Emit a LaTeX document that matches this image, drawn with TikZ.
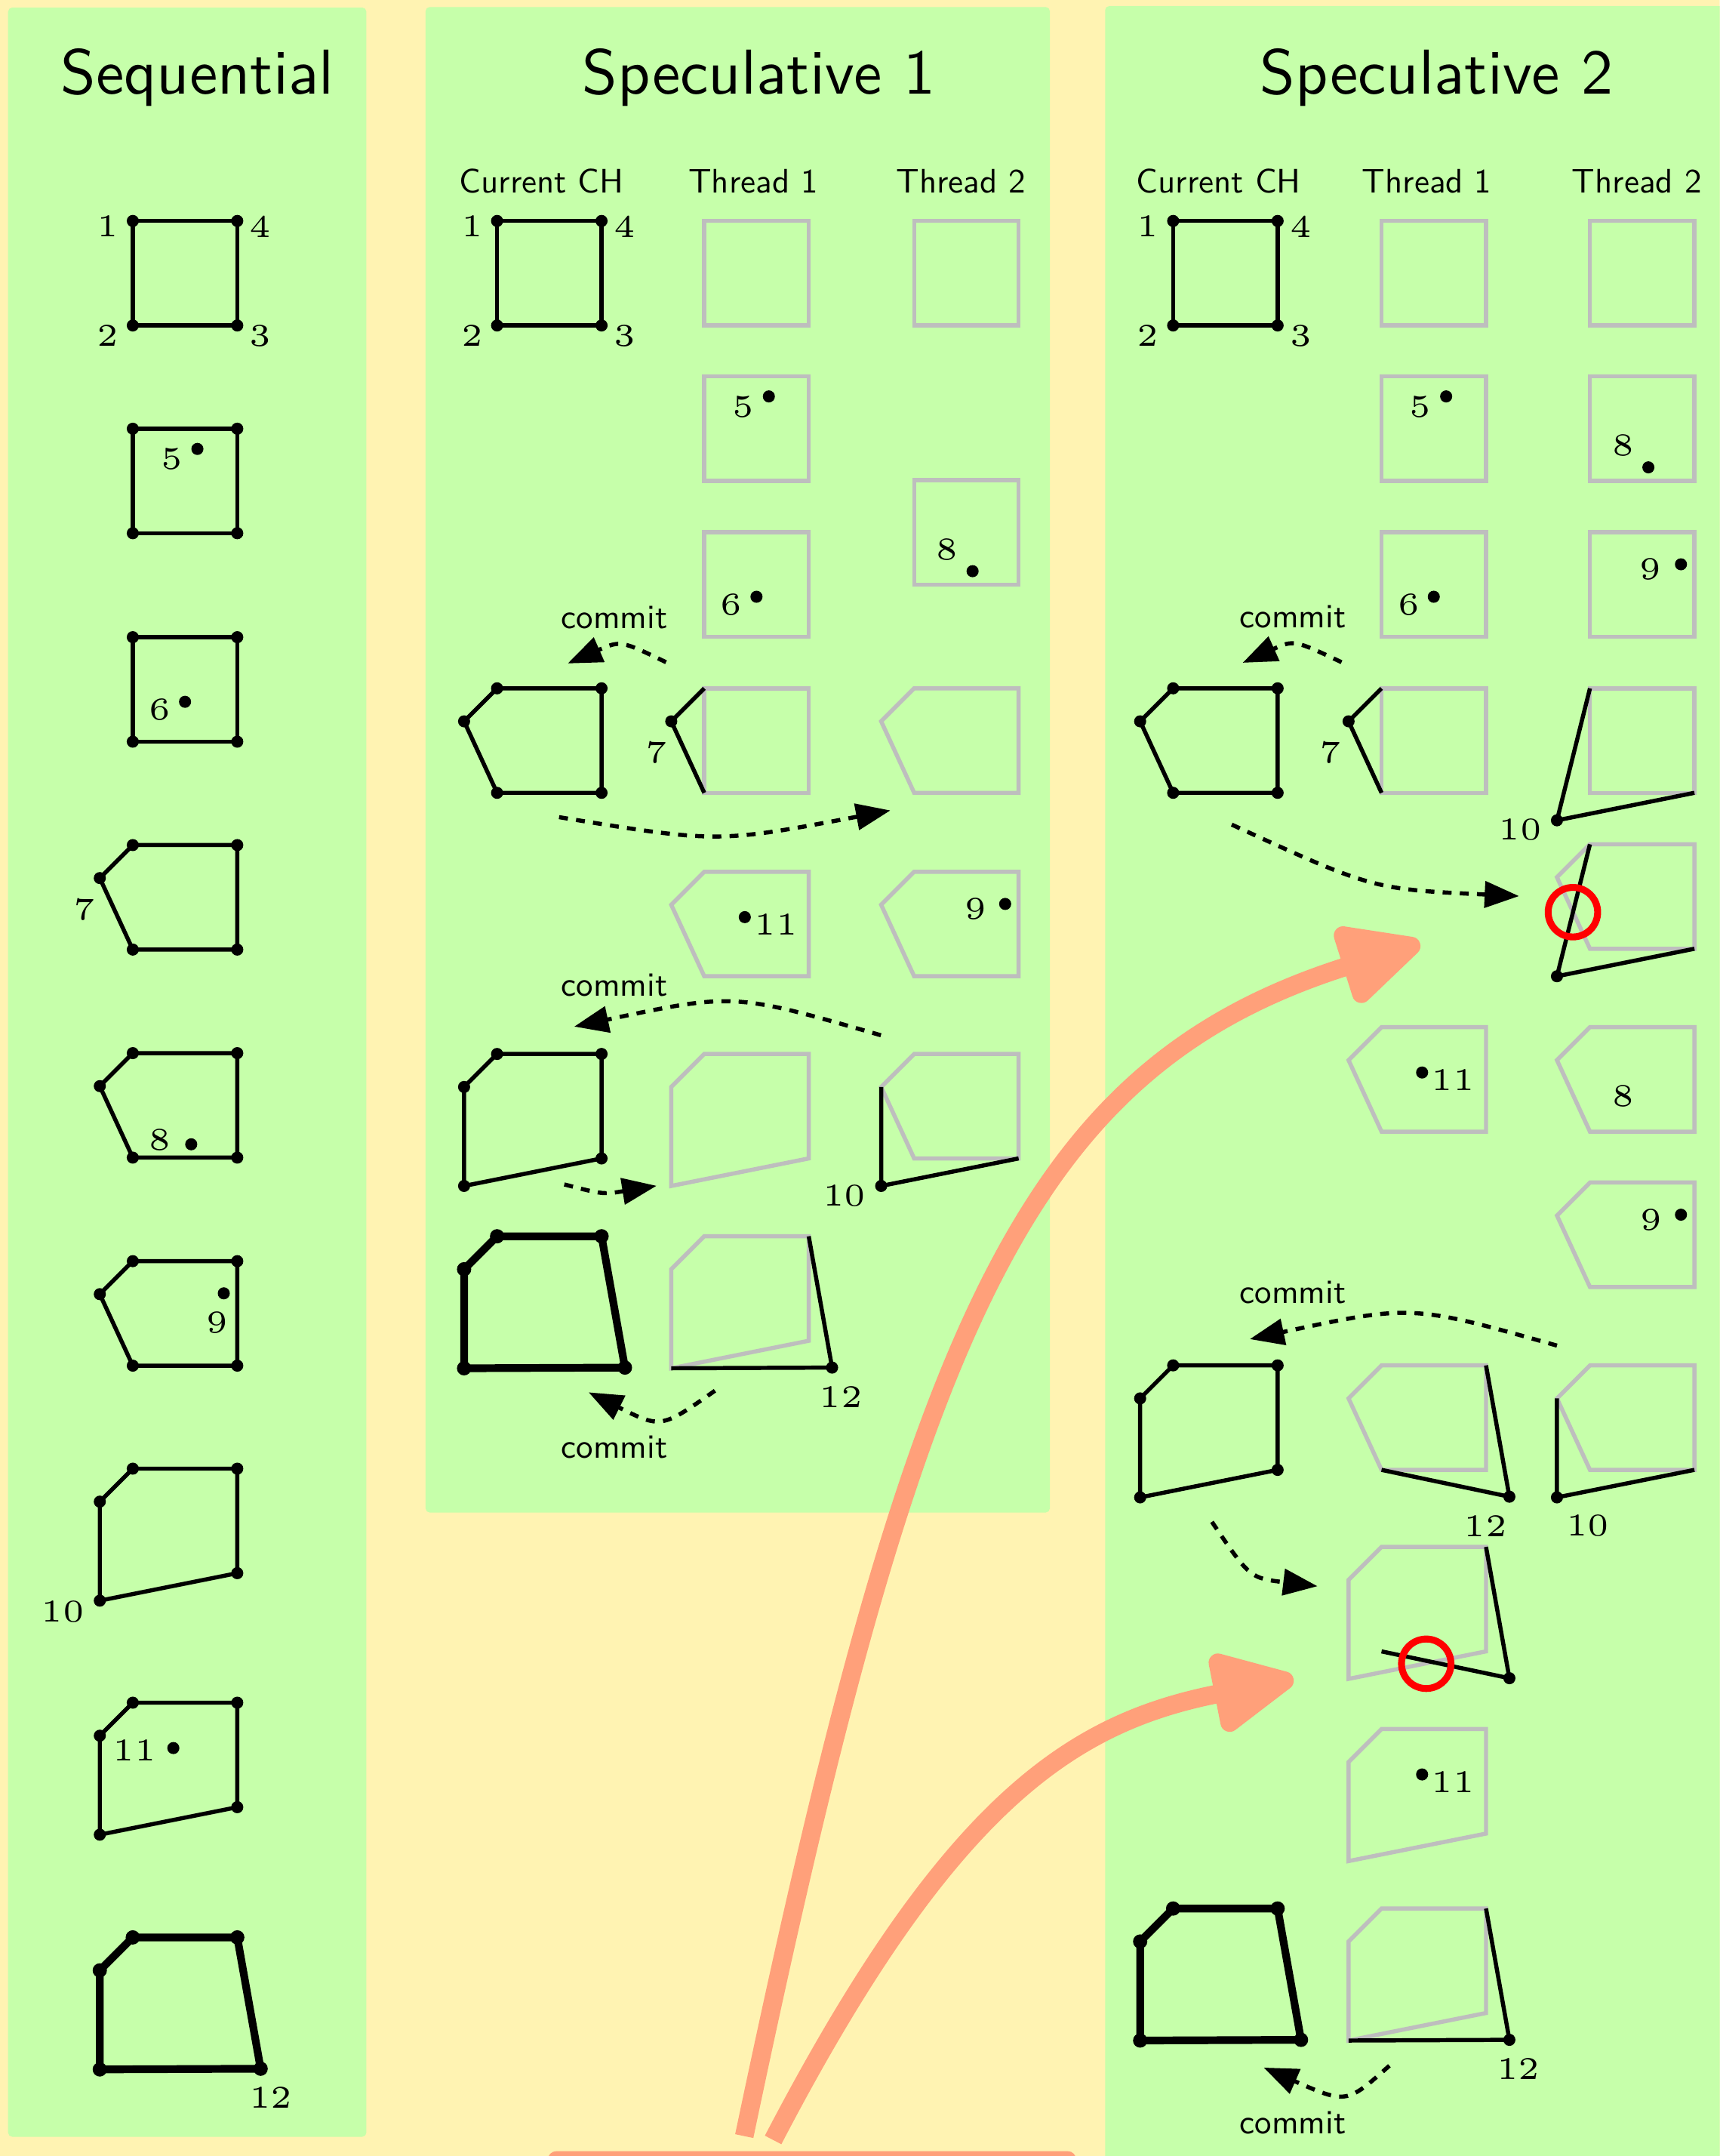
\documentclass[tikz,border=0pt]{standalone}
\usepackage{graphicx}
\usetikzlibrary{arrows.meta}
\definecolor{bgy}{RGB}{255,243,178}
\definecolor{pgreen}{RGB}{198,255,170}
\definecolor{salm}{RGB}{255,160,122}
\definecolor{lgr}{RGB}{190,190,190}
\newcommand\numt[1]{\scalebox{4.6}{\fontsize{5}{6}\selectfont #1}}
\newcommand\sft[1]{\scalebox{2.47}{\sffamily\fontsize{10}{12}\selectfont #1}}
\newcommand\ttl[1]{\scalebox{4.61}{\sffamily\fontsize{10}{12}\selectfont #1}}
\newcommand\At[3]{\begin{scope}[shift={(#1,#2)}]#3\end{scope}}
\newcommand\Dot[1]{\fill (#1) circle[radius=4.4pt];}
\newcommand\DotT[1]{\fill (#1) circle[radius=5.2pt];}
\newcommand\Lab[3]{\node[inner sep=0pt] (#1) at (#2) {\numt{#3}};}
\newcommand\gSq{\draw[gry] (0,0)--(76,0)--(76,76)--(0,76)--cycle;}
\newcommand\bSq{\draw[blk] (0,0)--(76,0)--(76,76)--(0,76)--cycle; \Dot{0,0}\Dot{76,0}\Dot{76,76}\Dot{0,76}}
\newcommand\gPent{\draw[gry] (-24,24)--(0,0)--(76,0)--(76,76)--(0,76)--cycle;}
\newcommand\bPent{\draw[blk] (-24,24)--(0,0)--(76,0)--(76,76)--(0,76)--cycle; \Dot{-24,24}\Dot{0,0}\Dot{76,0}\Dot{76,76}\Dot{0,76}}
\newcommand\gHull{\draw[gry] (-24,24)--(0,0)--(76,0)--(76,76)--(-24,96)--cycle;}
\newcommand\bHull{\draw[blk] (-24,24)--(0,0)--(76,0)--(76,76)--(-24,96)--cycle; \Dot{-24,24}\Dot{0,0}\Dot{76,0}\Dot{76,76}\Dot{-24,96}}
\newcommand\bFin{\draw[thk] (-24,24)--(0,0)--(76,0)--(93,95.5)--(-24,96)--cycle; \DotT{-24,24}\DotT{0,0}\DotT{76,0}\DotT{93,95.5}\DotT{-24,96}}
\newcommand\Corners[1]{\Lab{#1a}{-18.3,4}{1}\Lab{#1b}{92.8,4}{4}\Lab{#1c}{-18.3,83.4}{2}\Lab{#1d}{92.8,83.4}{3}}
\begin{document}
\begin{tikzpicture}[x=1pt,y=-1pt,
  blk/.style={line width=3pt,black,line join=round},
  gry/.style={line width=3pt,lgr},
  thk/.style={line width=5.6pt,black,line join=round},
  cmtarr/.style={line width=3pt,dash pattern=on 6.5pt off 6pt,-{Triangle[length=25pt,width=19pt]}},
  bigarr/.style={line width=13.5pt,salm,-{Triangle[length=68pt,width=62pt,round]}},
  redring/.style={red,line width=5pt},
  cmtlab/.style={anchor=base,inner sep=0pt}]
\useasboundingbox (0,0) rectangle (1251,1568);
\clip (0,0) rectangle (1251,1568);
\fill[bgy] (0,0) rectangle (1251,1568);
\fill[pgreen,rounded corners=3pt] (5.9,5.5) rectangle (266.5,1554);
\fill[pgreen,rounded corners=3pt] (309.6,5.1) rectangle (763.7,1100);
\fill[pgreen,rounded corners=3pt] (803.9,4.4) rectangle (1262,1580);
% titles
\node[anchor=base,inner sep=0pt] (tseq) at (143.6,68.6) {\ttl{Sequential}};
\node[anchor=base,inner sep=0pt] (tsp1) at (552,68.6) {\ttl{Speculative 1}};
\node[anchor=base,inner sep=0pt] (tsp2) at (1045,68.6) {\ttl{Speculative 2}};
\node[anchor=base,inner sep=0pt] (h1a) at (394,140) {\sft{Current CH}};
\node[anchor=base,inner sep=0pt] (h1b) at (548,140) {\sft{Thread 1}};
\node[anchor=base,inner sep=0pt] (h1c) at (699,140) {\sft{Thread 2}};
\node[anchor=base,inner sep=0pt] (h2a) at (886.5,140) {\sft{Current CH}};
\node[anchor=base,inner sep=0pt] (h2b) at (1038,140) {\sft{Thread 1}};
\node[anchor=base,inner sep=0pt] (h2c) at (1190.7,140) {\sft{Thread 2}};
% ---------- Sequential
\At{96.6}{160.7}{\bSq \Corners{sa}}
\At{96.6}{311.8}{\bSq \Dot{47,14.7} \Lab{s5}{28.3,22.1}{5}}
\At{96.6}{463.4}{\bSq \Dot{38,47} \Lab{s6}{19.7,52.6}{6}}
\At{96.6}{614.6}{\bPent \Lab{s7}{-35,46.6}{7}}
\At{96.6}{765.9}{\bPent \Dot{42.5,66.3} \Lab{s8}{19.9,63.1}{8}}
\At{96.6}{917.2}{\bPent \Dot{66.2,23.4} \Lab{s9}{61.3,44.6}{9}}
\At{96.6}{1068.1}{\bHull \Lab{s10}{-50.9,103.9}{10}}
\At{96.6}{1238.3}{\bHull \Dot{29.5,33} \Lab{s11}{1.3,34.7}{11}}
\At{96.6}{1409}{\bFin \Lab{s12}{100.4,116.7}{12}}
% ---------- Speculative 1
\At{361.6}{160.7}{\bSq \Corners{pa}}
\At{512.3}{160.7}{\gSq}
\At{665}{160.7}{\gSq}
\At{512.3}{273.6}{\gSq \Dot{47,14.7} \Lab{p5}{28.3,22.1}{5}}
\At{512.3}{387}{\gSq \Dot{38,47} \Lab{p6}{19.7,52.6}{6}}
\At{665}{349.1}{\gSq \Dot{42.5,66.3} \Lab{p8}{23.7,50.7}{8}}
\At{361.6}{500.6}{\bPent}
\At{512.3}{500.6}{\gSq \draw[blk] (0,0)--(-24,24)--(0,76); \Dot{-24,24} \Lab{p7}{-35,46.6}{7}}
\At{665}{500.6}{\gPent}
\At{512.3}{634}{\gPent \Dot{29.5,33} \Lab{p11}{52.1,38.4}{11}}
\At{665}{634}{\gPent \Dot{66.2,23.4} \Lab{p9}{44.6,27.1}{9}}
\At{361.6}{766.5}{\bHull}
\At{512.3}{766.5}{\gHull}
\At{665}{766.5}{\gPent \draw[blk] (-24,24)--(-24,96)--(76,76); \Dot{-24,96} \Lab{p10}{-50.7,103}{10}}
\At{361.6}{899.1}{\bFin}
\At{512.3}{899.1}{\gHull \draw[blk] (76,0)--(93,95.5)--(-24,96); \Dot{93,95.5} \Lab{p12}{99.5,116.8}{12}}
% commit arrows spec 1
\coordinate (a1s) at (484.5,481.6); \coordinate (a1e) at (413,482.5);
\draw[cmtarr] (a1s) .. controls (451.5,465.7) .. (a1e);
\node[cmtlab] (k1) at (447,457.1) {\sft{commit}};
\coordinate (a2s) at (406.7,594.3); \coordinate (a2e) at (647.7,589.4);
\draw[cmtarr] (a2s) .. controls (522,613.1) .. (a2e);
\coordinate (a3s) at (640.8,752.9); \coordinate (a3e) at (417.7,746.6);
\draw[cmtarr] (a3s) .. controls (533.8,722.1) .. (a3e);
\node[cmtlab] (k2) at (447,724.4) {\sft{commit}};
\coordinate (a4s) at (410.5,861.4); \coordinate (a4e) at (477.6,862.4);
\draw[cmtarr] (a4s) .. controls (438.7,868.7) .. (a4e);
\coordinate (a5s) at (520.1,1011.4); \coordinate (a5e) at (428.2,1012.6);
\draw[cmtarr] (a5s) .. controls (480.9,1038.9) .. (a5e);
\node[cmtlab] (k3) at (447,1060.6) {\sft{commit}};
% ---------- Speculative 2
\At{853.4}{160.7}{\bSq \Corners{qa}}
\At{1005}{160.7}{\gSq}
\At{1156.6}{160.7}{\gSq}
\At{1005}{273.6}{\gSq \Dot{47,14.7} \Lab{q5}{28.3,22.1}{5}}
\At{1156.6}{273.6}{\gSq \Dot{42.5,66.3} \Lab{q8}{24.4,50.3}{8}}
\At{1005}{387}{\gSq \Dot{38,47} \Lab{q6}{19.7,52.6}{6}}
\At{1156.6}{387}{\gSq \Dot{66.2,23.4} \Lab{q9}{44.2,26.8}{9}}
\At{853.4}{500.6}{\bPent}
\At{1005}{500.6}{\gSq \draw[blk] (0,0)--(-24,24)--(0,76); \Dot{-24,24} \Lab{q7}{-37,46.5}{7}}
\At{1156.6}{500.6}{\gSq \draw[blk] (0,0)--(-24,96)--(76,76); \Dot{-24,96} \Lab{q10}{-50.7,103}{10}}
\At{1156.6}{614}{\gPent \draw[blk] (0,0)--(-24,96)--(76,76); \Dot{-24,96}}
\At{1005}{747}{\gPent \Dot{29.5,33} \Lab{q11}{52.1,38.4}{11}}
\At{1156.6}{747}{\gPent \Lab{q8b}{24.1,49.9}{8}}
\At{1156.6}{860}{\gPent \Dot{66.2,23.4} \Lab{q9b}{44.6,27.1}{9}}
\At{853.4}{993}{\bHull}
\At{1005}{993}{\gPent \draw[blk] (76,0)--(93,95.5)--(0,76); \Dot{93,95.5} \Lab{q12}{75.6,117}{12}}
\At{1156.6}{993}{\gPent \draw[blk] (-24,24)--(-24,96)--(76,76); \Dot{-24,96} \Lab{q10b}{-1.6,116.8}{10}}
\At{1005}{1125}{\gHull \draw[blk] (76,0)--(93,95.5)--(0,76); \Dot{93,95.5}}
\At{1005}{1257.5}{\gHull \Dot{29.5,33} \Lab{q11b}{52.1,38.4}{11}}
\At{853.4}{1388}{\bFin}
\At{1005}{1388}{\gHull \draw[blk] (76,0)--(93,95.5)--(-24,96); \Dot{93,95.5} \Lab{q12b}{99.5,116.8}{12}}
\draw[redring] (1144.2,663.4) circle[radius=18pt];
\draw[redring] (1037.5,1210) circle[radius=18pt];
% commit arrows spec 2
\coordinate (b1s) at (975.9,481.6); \coordinate (b1e) at (904,482);
\draw[cmtarr] (b1s) .. controls (941.3,465.3) .. (b1e);
\node[cmtlab] (m1) at (940.5,456.6) {\sft{commit}};
\coordinate (b2s) at (896,599.7); \coordinate (b2e) at (1105,651.7);
\draw[cmtarr] (b2s) .. controls (998.5,646.7) .. (b2e);
\coordinate (b3s) at (1132.6,978.6); \coordinate (b3e) at (909.2,973.9);
\draw[cmtarr] (b3s) .. controls (1026.8,948.7) .. (b3e);
\node[cmtlab] (m2) at (940.5,948) {\sft{commit}};
\coordinate (b4s) at (881.6,1106.8); \coordinate (b4e) at (958.4,1153.6);
\draw[cmtarr] (b4s) .. controls (909.3,1147.7) .. (b4e);
\coordinate (b5s) at (1010.7,1502.3); \coordinate (b5e) at (919.3,1503.7);
\draw[cmtarr] (b5s) .. controls (979.5,1530.1) .. (b5e);
\node[cmtlab] (m3) at (940.5,1551.7) {\sft{commit}};
% ---------- bottom box and big arrows
\fill[salm,rounded corners=6pt] (398.6,1564.5) rectangle (782.8,1600);
\coordinate (o1s) at (541.4,1553.5); \coordinate (o1e) at (1033,686);
\draw[bigarr] (o1s) .. controls (664.6,966.7) and (744.5,777) .. (o1e);
\coordinate (o2s) at (562.4,1556.3); \coordinate (o2e) at (941,1221);
\draw[bigarr] (o2s) .. controls (691.8,1307.9) and (781.9,1252.4) .. (o2e);
\end{tikzpicture}
\end{document}
